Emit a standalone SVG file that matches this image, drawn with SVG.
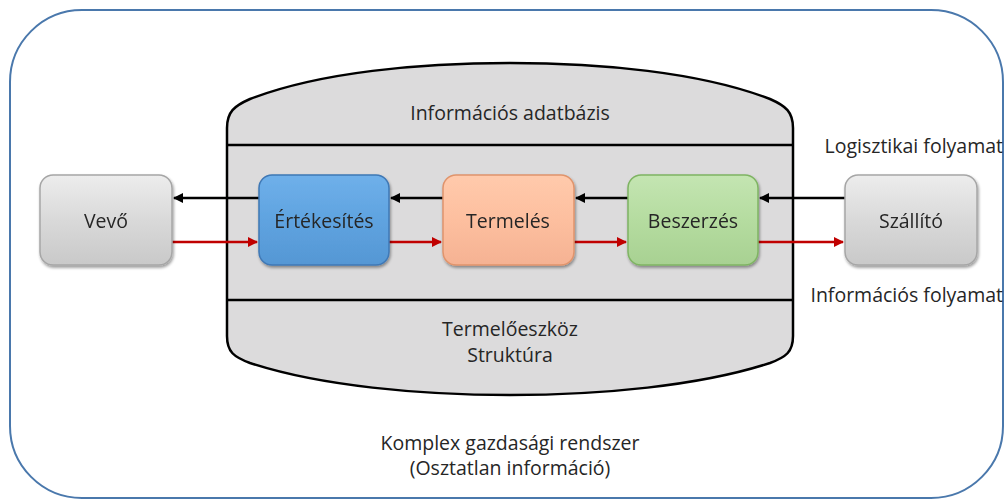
<svg xmlns="http://www.w3.org/2000/svg" width="1004" height="500" viewBox="0 0 1004 500">
<defs>
<style>
text{font-family:"Open Sans","Liberation Sans",Arial,sans-serif;fill:#262626;font-size:19.5px}
.c{text-anchor:middle}
.node rect{stroke-width:1.5}
.blk{stroke:#000;stroke-width:2.5;fill:none}
.red{stroke:#c00000;stroke-width:2.5;fill:none}
</style>
<linearGradient id="gGray" x1="0" y1="0" x2="0" y2="1"><stop offset="0" stop-color="#ededed"/><stop offset="0.5" stop-color="#d9d9d9"/><stop offset="1" stop-color="#c9c9c9"/></linearGradient>
<linearGradient id="gBlue" x1="0" y1="0" x2="0" y2="1"><stop offset="0" stop-color="#6fb0ea"/><stop offset="0.5" stop-color="#5fa3e0"/><stop offset="1" stop-color="#5597d4"/></linearGradient>
<linearGradient id="gOrange" x1="0" y1="0" x2="0" y2="1"><stop offset="0" stop-color="#ffcaac"/><stop offset="0.5" stop-color="#fdbf9f"/><stop offset="1" stop-color="#f5b293"/></linearGradient>
<linearGradient id="gGreen" x1="0" y1="0" x2="0" y2="1"><stop offset="0" stop-color="#c4e5b2"/><stop offset="0.5" stop-color="#b5dca0"/><stop offset="1" stop-color="#a8d192"/></linearGradient>
<filter id="sh" x="-10%" y="-10%" width="125%" height="130%"><feGaussianBlur in="SourceAlpha" stdDeviation="1.5"/><feOffset dx="1" dy="2" result="b"/><feComponentTransfer><feFuncA type="linear" slope="0.4"/></feComponentTransfer><feMerge><feMergeNode/><feMergeNode in="SourceGraphic"/></feMerge></filter>
<marker id="aB" markerWidth="10" markerHeight="10" refX="9" refY="5" orient="auto" markerUnits="userSpaceOnUse"><path d="M0,0 L10,5 L0,10 Z" fill="#000"/></marker>
<marker id="aR" markerWidth="10" markerHeight="10" refX="9" refY="5" orient="auto" markerUnits="userSpaceOnUse"><path d="M0,0 L10,5 L0,10 Z" fill="#c00000"/></marker>
</defs>
<rect width="1004" height="500" fill="#fff"/>
<g id="frame">
<rect x="10" y="10" width="993" height="488" rx="72" ry="72" fill="#fff" stroke="#4a78ac" stroke-width="2"/>
<text class="c" x="510" y="450">Komplex gazdasági rendszer</text>
<text class="c" x="510" y="475">(Osztatlan információ)</text>
</g>
<g id="database">
<path d="M227,128 C227,112 234,106 250,99 C320,72 420,63 510,63 C600,63 700,72 770,99 C786,106 793,112 793,128 V336 C793,352 786,357 770,363 C700,386 600,395 510,395 C420,395 320,386 250,363 C234,357 227,352 227,336 Z" fill="#dcdbdc" stroke="#000" stroke-width="2.5"/>
<line x1="227" y1="145" x2="793" y2="145" stroke="#000" stroke-width="2.5"/>
<line x1="227" y1="300" x2="793" y2="300" stroke="#000" stroke-width="2.5"/>
<text class="c" x="510" y="120">Információs adatbázis</text>
<text class="c" x="510" y="336">Termelőeszköz</text>
<text class="c" x="510" y="362">Struktúra</text>
</g>
<g id="labels">
<text x="1003" y="153" text-anchor="end">Logisztikai folyamat</text>
<text x="1003" y="302" text-anchor="end">Információs folyamat</text>
</g>
<g id="connectors">
<line class="blk" x1="259" y1="198" x2="174" y2="198" marker-end="url(#aB)"/>
<line class="blk" x1="443" y1="198" x2="391" y2="198" marker-end="url(#aB)"/>
<line class="blk" x1="628" y1="198" x2="576" y2="198" marker-end="url(#aB)"/>
<line class="blk" x1="845" y1="198" x2="760" y2="198" marker-end="url(#aB)"/>
<line class="red" x1="172" y1="242" x2="257" y2="242" marker-end="url(#aR)"/>
<line class="red" x1="389" y1="242" x2="441" y2="242" marker-end="url(#aR)"/>
<line class="red" x1="574" y1="242" x2="626" y2="242" marker-end="url(#aR)"/>
<line class="red" x1="758" y1="242" x2="843" y2="242" marker-end="url(#aR)"/>
</g>
<g id="vevo" class="node" filter="url(#sh)">
<rect x="40" y="175" width="132" height="90" rx="13" fill="url(#gGray)" stroke="#a6a6a6"/>
<text class="c" x="106" y="228">Vevő</text>
</g>
<g id="ertekesites" class="node" filter="url(#sh)">
<rect x="259" y="175" width="130" height="90" rx="13" fill="url(#gBlue)" stroke="#3f78b5"/>
<text class="c" x="324" y="228">Értékesítés</text>
</g>
<g id="termeles" class="node" filter="url(#sh)">
<rect x="443" y="175" width="131" height="90" rx="13" fill="url(#gOrange)" stroke="#e0946c"/>
<text class="c" x="508" y="228">Termelés</text>
</g>
<g id="beszerzes" class="node" filter="url(#sh)">
<rect x="628" y="175" width="130" height="90" rx="13" fill="url(#gGreen)" stroke="#7fb463"/>
<text class="c" x="693" y="228">Beszerzés</text>
</g>
<g id="szallito" class="node" filter="url(#sh)">
<rect x="845" y="175" width="132" height="90" rx="13" fill="url(#gGray)" stroke="#a6a6a6"/>
<text class="c" x="911" y="228">Szállító</text>
</g>
</svg>
